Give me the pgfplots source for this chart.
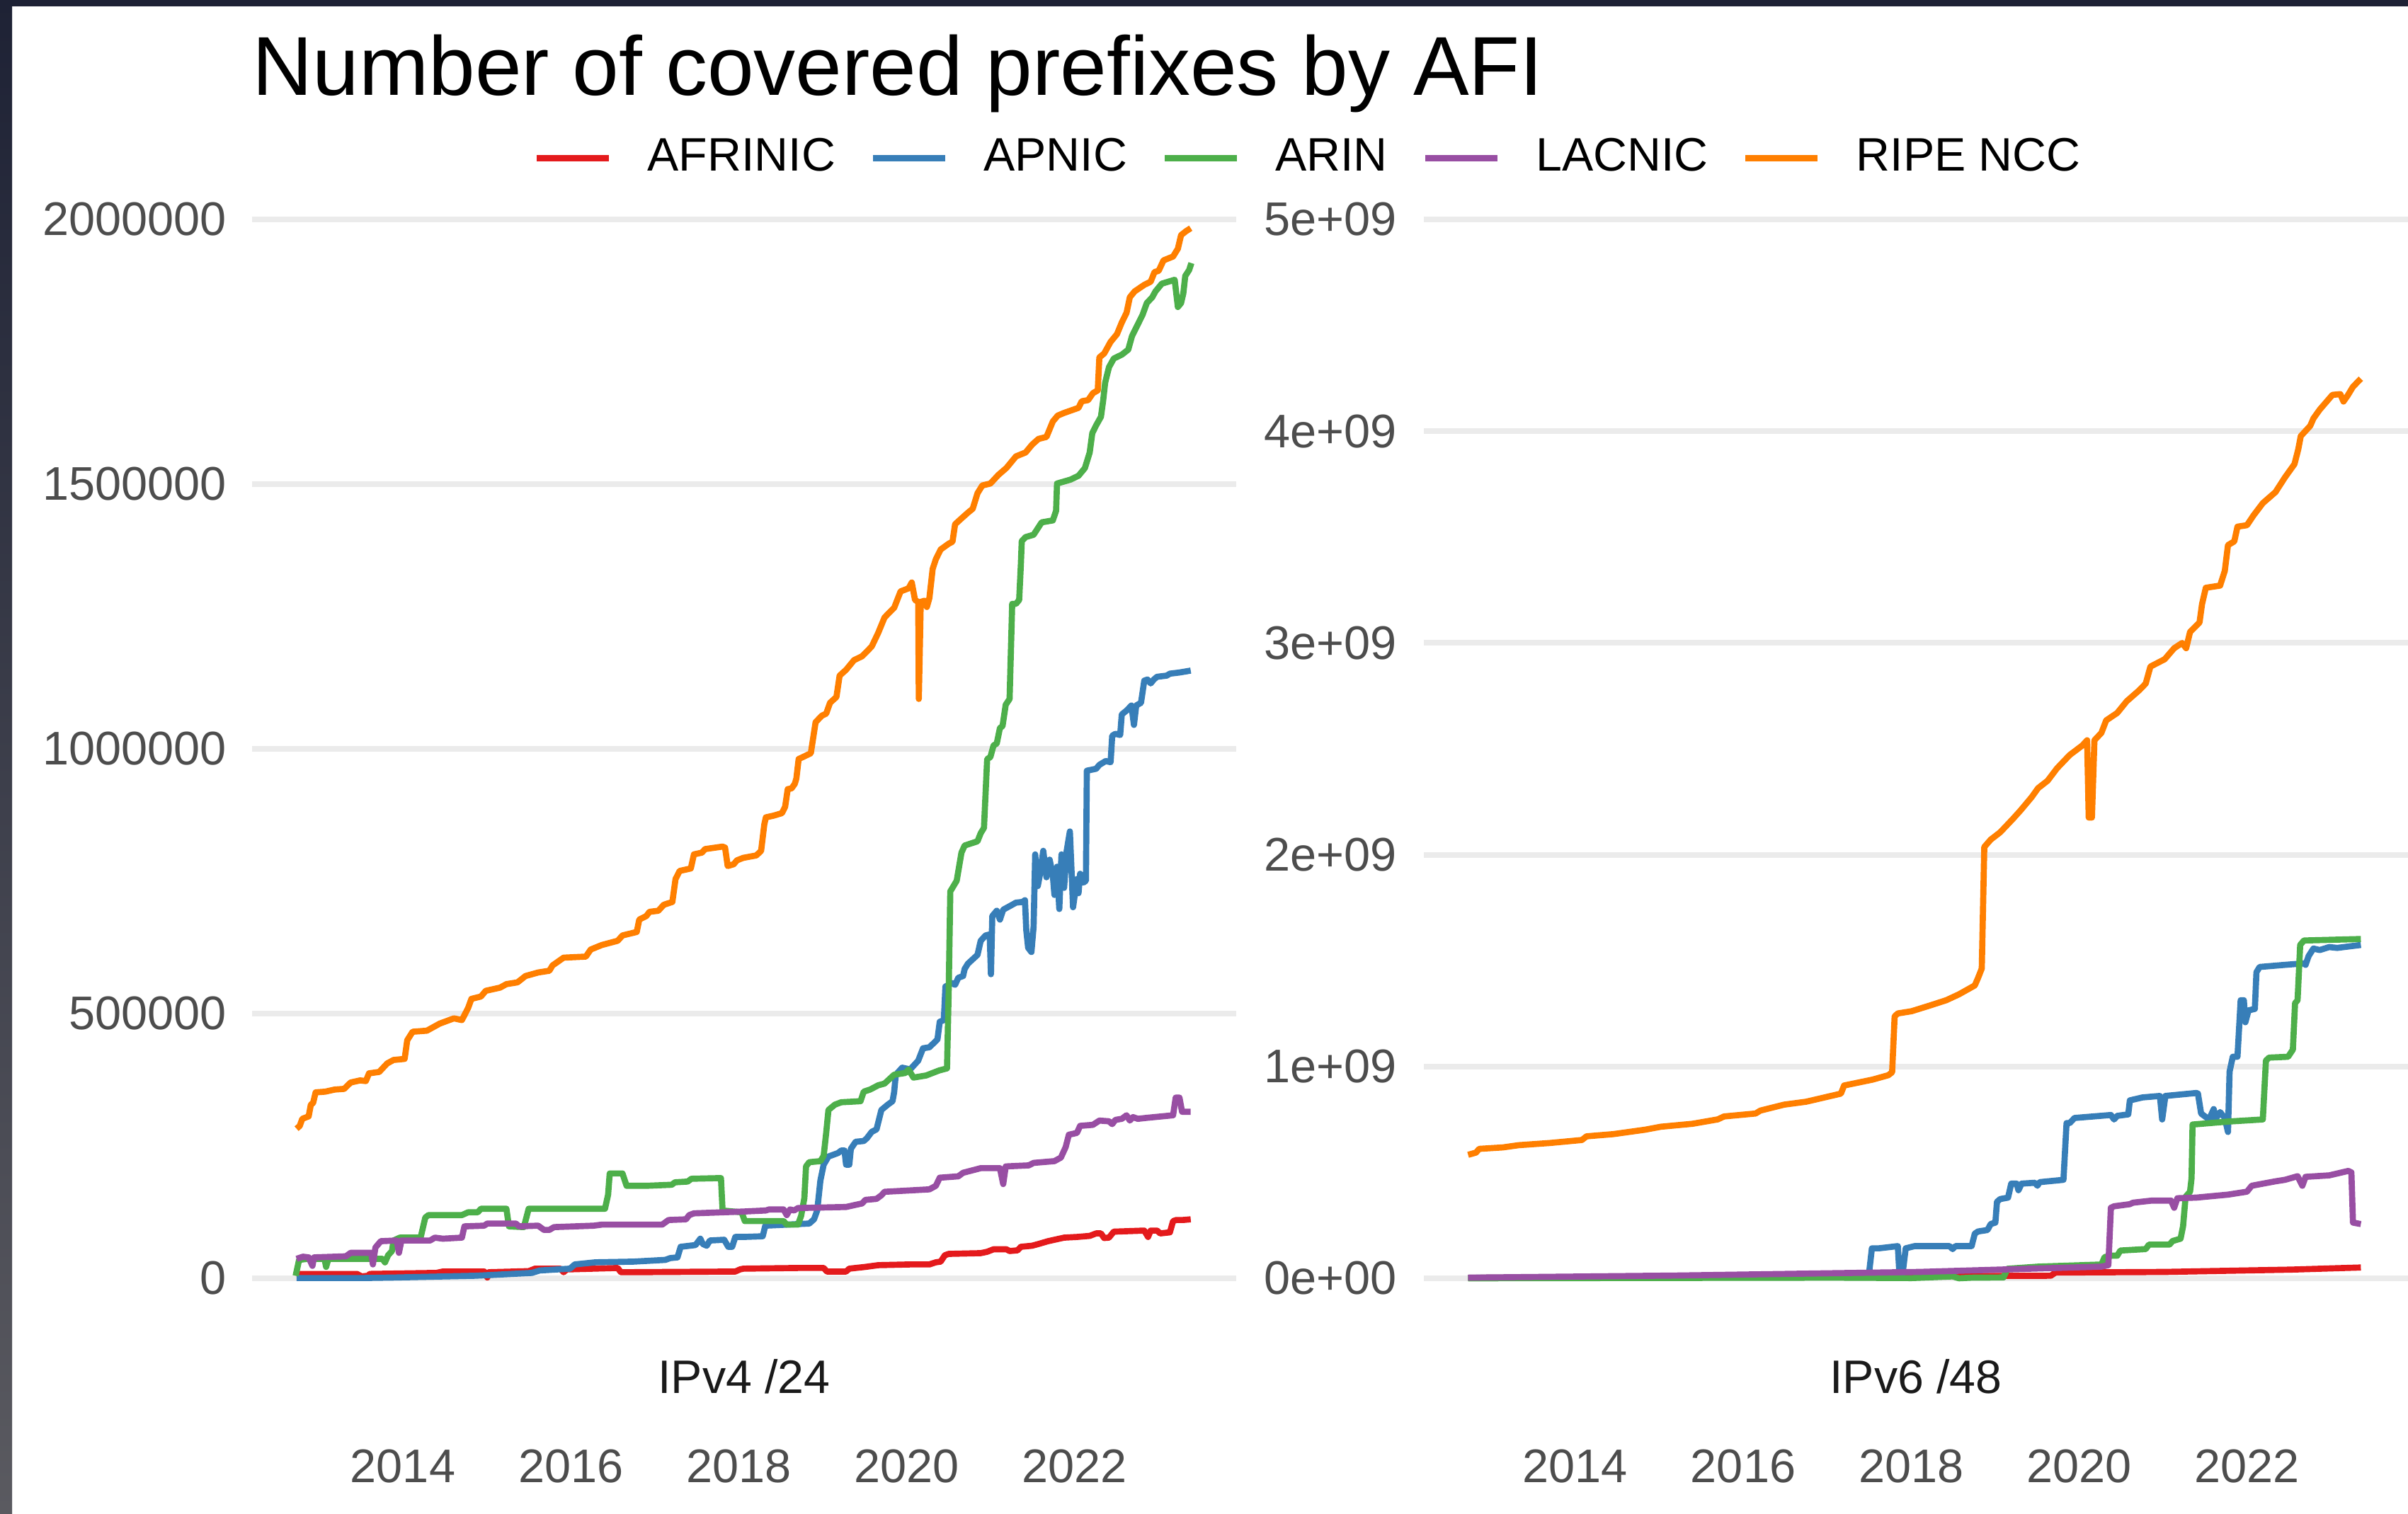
\documentclass[border=0pt]{standalone}
\usepackage{fontspec}
\setmainfont{Liberation Sans}
\usepackage{pgfplots}
\pgfplotsset{compat=1.18}
\definecolor{cAF}{HTML}{E41A1C}
\definecolor{cAP}{HTML}{377EB8}
\definecolor{cAR}{HTML}{4DAF4A}
\definecolor{cLA}{HTML}{984EA3}
\definecolor{cRI}{HTML}{FF7F00}
\definecolor{gridc}{HTML}{EBEBEB}
\definecolor{tickc}{HTML}{4D4D4D}
\definecolor{stripc}{HTML}{1A1A1A}
\definecolor{frametop}{HTML}{1E2235}
\definecolor{framebot}{HTML}{5A5A60}
\pgfplotsset{
  panel/.style={
    scale only axis, width=208.5pt, height=244.65pt, anchor=south west,
    axis line style={draw=none}, tick style={draw=none}, major tick length=0pt,
    ymajorgrids, xmajorgrids=false,
    major grid style={draw=gridc, line width=1.2pt},
    xtick={2014,2016,2018,2020,2022},
    xticklabels={2014,2016,2018,2020,2022},
    scaled y ticks=false, scaled x ticks=false,
    tick label style={font=\fontsize{10}{12}\selectfont, text=tickc, inner sep=0pt},
    xticklabel style={anchor=north, yshift=-24.9pt},
    every axis x label/.style={at={(axis description cs:0.5,0)}, anchor=base, yshift=-13.05pt, font=\fontsize{9.95}{12}\selectfont, text=stripc},
    every axis plot/.append style={line width=1.3pt, line join=round},
    clip=false,
  },
}
\begin{document}
\begin{tikzpicture}
\useasboundingbox (0pt,0pt) rectangle (510.15pt,320.7pt);
\fill[white] (0pt,0pt) rectangle (510.15pt,320.7pt);
\shade[top color=frametop, bottom color=framebot] (0pt,0pt) rectangle (2.55pt,320.7pt);
\fill[frametop] (0pt,319.35pt) rectangle (510.15pt,320.7pt);
\node[anchor=base west, inner sep=0pt, font=\fontsize{17.7}{21}\selectfont] at (53.3pt,300.45pt) {Number of covered prefixes by AFI};

% ---------------- IPv4 /24 ----------------
\begin{axis}[panel, at={(53.4pt,38.55pt)},
  xmin=2012.204, xmax=2023.924, ymin=-100270, ymax=2080200,
  ytick={0,500000,1000000,1500000,2000000},
  yticklabels={0,500000,1000000,1500000,2000000},
  yticklabel style={anchor=east, xshift=-5.25pt},
  xlabel={IPv4 /24},
  legend columns=5,
  legend style={at={(0.2863,1.0162)}, anchor=west, draw=none, fill=none, inner sep=0pt, outer sep=0pt,
    font=\fontsize{9.95}{12}\selectfont, nodes={inner sep=0pt, outer sep=0pt}, cells={anchor=west},
    /tikz/every odd column/.append style={column sep=7.5pt},
    /tikz/every even column/.append style={column sep=7.3pt}},
  legend image code/.code={\draw[#1, line width=1.3pt] (0pt,0pt) -- (15.3pt,0pt);},
]
\addplot[cAF] coordinates {(2012.734,8200) (2013.453,8200) (2013.510,3500) (2013.586,4800) (2013.605,8200) (2014.400,10200) (2014.476,12800) (2014.968,12800) (2015.006,1500) (2015.025,11500) (2015.498,13500) (2015.574,18200) (2015.876,18200) (2015.914,11500) (2015.952,16800) (2016.558,19500) (2016.596,11500) (2016.671,11500) (2017.959,12800) (2018.015,16800) (2018.056,18200) (2018.705,19500) (2019.011,19500) (2019.049,12800) (2019.278,12800) (2019.316,18200) (2019.507,21500) (2019.660,24800) (2020.041,26200) (2020.270,26200) (2020.347,30200) (2020.404,31500) (2020.454,43500) (2020.500,46100) (2020.881,47500) (2020.958,50100) (2021.034,54800) (2021.187,54800) (2021.225,51500) (2021.320,52800) (2021.359,59500) (2021.492,61500) (2021.569,64800) (2021.683,70100) (2021.874,76800) (2022.027,78100) (2022.179,80100) (2022.256,84800) (2022.313,84800) (2022.351,76100) (2022.408,76800) (2022.466,88100) (2022.829,90100) (2022.874,78100) (2022.905,90100) (2022.981,90100) (2023.019,84800) (2023.134,86800) (2023.172,108100) (2023.210,110100) (2023.287,110100) (2023.382,111400)};
\addplot[cAP] coordinates {(2012.734,500) (2013.529,500) (2013.908,1500) (2014.854,4800) (2015.044,6200) (2015.536,10200) (2015.630,14800) (2015.990,18200) (2016.047,26200) (2016.293,30200) (2016.747,31500) (2017.126,34800) (2017.183,38100) (2017.270,39500) (2017.308,59500) (2017.485,62800) (2017.542,74800) (2017.572,64800) (2017.618,61500) (2017.656,71400) (2017.826,72800) (2017.875,59500) (2017.921,59500) (2017.959,78100) (2018.056,78100) (2018.285,79400) (2018.316,99400) (2018.743,102700) (2018.839,103400) (2018.896,111400) (2018.934,128000) (2018.972,184700) (2019.011,214600) (2019.068,230000) (2019.182,236600) (2019.220,241300) (2019.259,241300) (2019.278,214600) (2019.316,214600) (2019.335,244600) (2019.392,257900) (2019.488,259300) (2019.526,264600) (2019.583,276600) (2019.640,281200) (2019.698,317900) (2019.774,327900) (2019.831,334500) (2019.850,351200) (2019.870,384500) (2019.946,397800) (2020.041,394500) (2020.137,411100) (2020.194,434400) (2020.270,436400) (2020.366,451100) (2020.393,484400) (2020.442,487700) (2020.461,551000) (2020.538,557600) (2020.576,554300) (2020.614,567600) (2020.671,570900) (2020.690,584300) (2020.729,594300) (2020.843,610900) (2020.881,637500) (2020.939,647500) (2020.988,649500) (2021.003,574300) (2021.019,684200) (2021.072,694200) (2021.110,677500) (2021.149,696200) (2021.225,702800) (2021.301,709500) (2021.378,710800) (2021.408,714100) (2021.424,657500) (2021.446,624200) (2021.485,616200) (2021.511,664200) (2021.530,800700) (2021.561,740800) (2021.588,764100) (2021.626,807400) (2021.664,757400) (2021.702,790700) (2021.740,760800) (2021.759,724100) (2021.790,777400) (2021.817,697500) (2021.843,800700) (2021.874,737400) (2021.905,807400) (2021.943,844000) (2021.981,700800) (2022.027,754100) (2022.046,727400) (2022.065,764100) (2022.103,747400) (2022.134,750800) (2022.145,958700) (2022.256,962400) (2022.294,969700) (2022.370,977000) (2022.428,974800) (2022.447,1024700) (2022.485,1028400) (2022.542,1026200) (2022.561,1065000) (2022.618,1072300) (2022.676,1081900) (2022.706,1045200) (2022.733,1081900) (2022.790,1087000) (2022.829,1128800) (2022.867,1131000) (2022.905,1123600) (2022.943,1131000) (2022.981,1136100) (2023.096,1138300) (2023.134,1142000) (2023.248,1144200) (2023.382,1147800)};
\addplot[cAR] coordinates {(2012.723,4800) (2012.764,34800) (2012.867,36800) (2013.067,36800) (2013.086,21500) (2013.113,36800) (2013.756,36800) (2013.787,30100) (2013.824,43500) (2013.870,51500) (2013.889,71400) (2013.964,76800) (2014.211,76800) (2014.267,114700) (2014.305,119400) (2014.703,119400) (2014.778,124700) (2014.892,124700) (2014.930,131400) (2015.233,131400) (2015.263,98100) (2015.441,96700) (2015.498,131400) (2016.407,131400) (2016.444,158000) (2016.463,198000) (2016.615,198000) (2016.664,174700) (2016.899,174700) (2017.202,176700) (2017.240,181300) (2017.391,182700) (2017.436,188000) (2017.788,189300) (2017.807,128000) (2018.034,124700) (2018.072,108100) (2018.533,108100) (2018.571,101400) (2018.705,101400) (2018.743,118100) (2018.781,151400) (2018.801,211300) (2018.839,219300) (2018.972,221300) (2019.011,231300) (2019.041,274600) (2019.068,317900) (2019.144,327900) (2019.220,332500) (2019.450,334500) (2019.488,352500) (2019.564,356500) (2019.660,364500) (2019.736,367800) (2019.850,384500) (2019.984,387800) (2020.022,394500) (2020.080,379100) (2020.232,383100) (2020.385,392500) (2020.480,396500) (2020.500,544300) (2020.519,730800) (2020.595,750800) (2020.652,804000) (2020.690,817400) (2020.843,825400) (2020.881,840700) (2020.920,850700) (2020.958,980700) (2020.996,984400) (2021.034,1006400) (2021.072,1010000) (2021.110,1039300) (2021.141,1043000) (2021.179,1083300) (2021.225,1094300) (2021.256,1273900) (2021.301,1273900) (2021.339,1281200) (2021.359,1347200) (2021.370,1392600) (2021.416,1400000) (2021.511,1404400) (2021.607,1427800) (2021.740,1431500) (2021.779,1449800) (2021.790,1501100) (2021.950,1508500) (2022.046,1515800) (2022.122,1530400) (2022.179,1559800) (2022.210,1596400) (2022.256,1611100) (2022.313,1627200) (2022.340,1658700) (2022.363,1691700) (2022.409,1721000) (2022.466,1737200) (2022.561,1744500) (2022.638,1754000) (2022.683,1779700) (2022.752,1801700) (2022.809,1820000) (2022.859,1842000) (2022.924,1853000) (2022.962,1864000) (2023.038,1878600) (2023.191,1886000) (2023.210,1860300) (2023.229,1834600) (2023.267,1842000) (2023.294,1860300) (2023.317,1893300) (2023.363,1904300) (2023.390,1917500)};
\addplot[cLA] coordinates {(2012.734,36800) (2012.810,40800) (2012.878,39500) (2012.923,23500) (2012.942,39500) (2013.321,41500) (2013.378,48100) (2013.624,48100) (2013.643,26200) (2013.673,58100) (2013.737,70100) (2013.927,71400) (2013.953,48100) (2013.983,71400) (2014.324,71400) (2014.381,76800) (2014.476,74800) (2014.703,76800) (2014.733,98100) (2014.968,99400) (2015.006,103400) (2015.346,103400) (2015.384,98100) (2015.611,99400) (2015.680,91400) (2015.744,91400) (2015.801,96700) (2016.274,99400) (2016.369,101400) (2017.088,101400) (2017.164,110100) (2017.372,111400) (2017.410,119400) (2017.466,122700) (2018.056,126100) (2018.323,128100) (2018.361,130100) (2018.533,130100) (2018.571,119400) (2018.610,130100) (2018.659,128100) (2018.705,132700) (2019.278,134700) (2019.373,138100) (2019.469,141400) (2019.507,148100) (2019.640,150000) (2019.698,156700) (2019.736,163400) (2020.041,166000) (2020.270,168000) (2020.347,174700) (2020.393,190000) (2020.614,192600) (2020.671,199300) (2020.881,208000) (2021.110,208000) (2021.149,178000) (2021.179,211300) (2021.454,213300) (2021.511,218000) (2021.759,221300) (2021.836,228000) (2021.893,247900) (2021.931,271200) (2022.027,274600) (2022.065,287900) (2022.218,289900) (2022.294,297900) (2022.408,296600) (2022.447,291200) (2022.485,299200) (2022.561,301200) (2022.618,307900) (2022.657,297900) (2022.695,304500) (2022.752,301200) (2022.867,303200) (2023.172,307900) (2023.203,341200) (2023.248,341200) (2023.279,314500) (2023.382,314500)};
\addplot[cRI] coordinates {(2012.734,282600) (2012.772,287900) (2012.802,301200) (2012.878,305900) (2012.904,327900) (2012.931,331200) (2012.961,351200) (2013.075,352500) (2013.188,356500) (2013.302,357800) (2013.378,369800) (2013.491,373800) (2013.559,372500) (2013.597,387100) (2013.718,389800) (2013.813,405800) (2013.889,412400) (2014.021,414400) (2014.052,449700) (2014.116,465700) (2014.286,467700) (2014.438,481000) (2014.608,491000) (2014.703,487700) (2014.778,511000) (2014.816,527700) (2014.930,532300) (2014.987,543000) (2015.157,549000) (2015.233,555600) (2015.365,559000) (2015.460,570900) (2015.611,577600) (2015.744,580900) (2015.782,590900) (2015.914,605600) (2016.179,607600) (2016.236,620900) (2016.369,629500) (2016.558,637500) (2016.615,647500) (2016.785,654200) (2016.815,677500) (2016.899,684200) (2016.937,692200) (2017.042,694200) (2017.107,705500) (2017.209,710800) (2017.247,754100) (2017.296,769400) (2017.429,774100) (2017.466,800700) (2017.561,804000) (2017.599,810700) (2017.807,815400) (2017.837,813400) (2017.868,778700) (2017.940,782100) (2017.978,789400) (2018.053,794100) (2018.209,798700) (2018.266,807400) (2018.304,857300) (2018.323,870600) (2018.419,874000) (2018.514,878600) (2018.552,890600) (2018.583,923900) (2018.629,925300) (2018.667,933900) (2018.686,944100) (2018.713,980700) (2018.858,991700) (2018.915,1050400) (2018.991,1062800) (2019.041,1066500) (2019.087,1087000) (2019.163,1098000) (2019.201,1138300) (2019.278,1149300) (2019.373,1167600) (2019.469,1174900) (2019.583,1193300) (2019.660,1218900) (2019.736,1248200) (2019.851,1266600) (2019.927,1297400) (2020.022,1303200) (2020.060,1314200) (2020.099,1281200) (2020.137,1277600) (2020.144,1094300) (2020.167,1277600) (2020.213,1279800) (2020.240,1268000) (2020.270,1284900) (2020.309,1339900) (2020.347,1358200) (2020.404,1376500) (2020.500,1387500) (2020.545,1391200) (2020.576,1424200) (2020.652,1435200) (2020.729,1446100) (2020.786,1453500) (2020.843,1482800) (2020.900,1497500) (2020.996,1501100) (2021.091,1517300) (2021.187,1530500) (2021.301,1552400) (2021.416,1559800) (2021.492,1574400) (2021.569,1585400) (2021.664,1589100) (2021.740,1618400) (2021.798,1629400) (2021.874,1634500) (2022.046,1644100) (2022.084,1656500) (2022.160,1658700) (2022.218,1671900) (2022.275,1677000) (2022.294,1739400) (2022.351,1746700) (2022.428,1768700) (2022.504,1783300) (2022.561,1805300) (2022.618,1823700) (2022.657,1853000) (2022.714,1864000) (2022.829,1876400) (2022.905,1882300) (2022.951,1900600) (2023.000,1902800) (2023.058,1922600) (2023.172,1929900) (2023.229,1944600) (2023.267,1970300) (2023.325,1977600) (2023.382,1983400)};
\legend{AFRINIC,APNIC,ARIN,LACNIC,RIPE NCC}
\end{axis}

% ---------------- IPv6 /48 ----------------
\begin{axis}[panel, at={(301.65pt,38.55pt)},
  xmin=2012.196, xmax=2023.92, ymin=-0.2507e9, ymax=5.2005e9,
  ytick={0,1e9,2e9,3e9,4e9,5e9},
  yticklabels={0e+00,1e+09,2e+09,3e+09,4e+09,5e+09},
  yticklabel style={anchor=east, xshift=-5.55pt},
  xlabel={IPv6 /48},
]
\addplot[cAF] coordinates {(2012.723,0.002e9) (2015.0,0.005e9) (2018.0,0.010e9) (2019.664,0.012e9) (2019.720,0.027e9) (2021.021,0.030e9) (2022.529,0.041e9) (2023.358,0.051e9)};
\addplot[cAP] coordinates {(2012.723,0.002e9) (2017.466,0.012e9) (2017.503,0.037e9) (2017.533,0.1415e9) (2017.616,0.1415e9) (2017.842,0.152e9) (2017.861,0.020e9) (2017.898,0.020e9) (2017.936,0.1415e9) (2018.043,0.152e9) (2018.457,0.152e9) (2018.495,0.138e9) (2018.530,0.152e9) (2018.721,0.152e9) (2018.759,0.211e9) (2018.797,0.221e9) (2018.910,0.228e9) (2018.948,0.256e9) (2019.004,0.263e9) (2019.023,0.361e9) (2019.061,0.374e9) (2019.155,0.381e9) (2019.193,0.447e9) (2019.257,0.447e9) (2019.279,0.416e9) (2019.317,0.447e9) (2019.475,0.451e9) (2019.505,0.437e9) (2019.532,0.454e9) (2019.815,0.465e9) (2019.852,0.733e9) (2019.890,0.733e9) (2019.947,0.757e9) (2020.380,0.771e9) (2020.418,0.750e9) (2020.456,0.767e9) (2020.587,0.774e9) (2020.606,0.840e9) (2020.757,0.854e9) (2020.964,0.861e9) (2020.991,0.750e9) (2021.029,0.861e9) (2021.398,0.875e9) (2021.417,0.872e9) (2021.455,0.778e9) (2021.549,0.750e9) (2021.605,0.799e9) (2021.624,0.750e9) (2021.681,0.785e9) (2021.737,0.757e9) (2021.775,0.691e9) (2021.794,0.976e9) (2021.832,1.046e9) (2021.888,1.046e9) (2021.926,1.313e9) (2021.964,1.313e9) (2021.982,1.209e9) (2022.020,1.265e9) (2022.095,1.272e9) (2022.114,1.445e9) (2022.152,1.470e9) (2022.454,1.480e9) (2022.680,1.487e9) (2022.699,1.480e9) (2022.736,1.522e9) (2022.793,1.557e9) (2022.868,1.550e9) (2022.981,1.564e9) (2023.076,1.560e9) (2023.358,1.574e9)};
\addplot[cAR] coordinates {(2012.723,0.000e9) (2017.089,0.003e9) (2018.005,0.001e9) (2018.495,0.009e9) (2018.571,0.000e9) (2018.721,0.003e9) (2019.10,0.004e9) (2019.15,0.045e9) (2019.513,0.055e9) (2020.267,0.065e9) (2020.305,0.100e9) (2020.380,0.107e9) (2020.456,0.107e9) (2020.493,0.131e9) (2020.795,0.138e9) (2020.833,0.159e9) (2021.078,0.159e9) (2021.115,0.176e9) (2021.210,0.187e9) (2021.240,0.246e9) (2021.270,0.385e9) (2021.323,0.409e9) (2021.341,0.472e9) (2021.353,0.726e9) (2021.775,0.740e9) (2022.190,0.750e9) (2022.227,1.028e9) (2022.265,1.042e9) (2022.491,1.046e9) (2022.548,1.080e9) (2022.574,1.299e9) (2022.604,1.313e9) (2022.635,1.574e9) (2022.680,1.595e9) (2023.358,1.602e9)};
\addplot[cLA] coordinates {(2012.723,0.003e9) (2015.207,0.013e9) (2018.098,0.030e9) (2020.267,0.055e9) (2020.350,0.062e9) (2020.380,0.333e9) (2020.418,0.340e9) (2020.606,0.350e9) (2020.644,0.357e9) (2020.870,0.367e9) (2021.096,0.367e9) (2021.134,0.333e9) (2021.172,0.378e9) (2021.398,0.381e9) (2021.775,0.395e9) (2022.001,0.409e9) (2022.058,0.437e9) (2022.341,0.458e9) (2022.454,0.465e9) (2022.604,0.482e9) (2022.661,0.437e9) (2022.699,0.479e9) (2022.981,0.486e9) (2023.208,0.507e9) (2023.245,0.500e9) (2023.264,0.263e9) (2023.358,0.256e9)};
\addplot[cRI] coordinates {(2012.723,0.5830e9) (2012.817,0.5935e9) (2012.855,0.6111e9) (2013.137,0.6180e9) (2013.325,0.6285e9) (2013.702,0.6390e9) (2013.890,0.6460e9) (2014.078,0.6530e9) (2014.134,0.6703e9) (2014.454,0.6808e9) (2014.831,0.7016e9) (2015.019,0.7156e9) (2015.395,0.7295e9) (2015.697,0.7503e9) (2015.772,0.7642e9) (2016.148,0.7781e9) (2016.205,0.7920e9) (2016.487,0.8199e9) (2016.750,0.8338e9) (2016.901,0.8477e9) (2017.164,0.8720e9) (2017.202,0.9103e9) (2017.541,0.9381e9) (2017.729,0.9590e9) (2017.774,0.9729e9) (2017.804,1.2367e9) (2017.842,1.2506e9) (2018.005,1.2610e9) (2018.231,1.2889e9) (2018.420,1.3132e9) (2018.571,1.3410e9) (2018.759,1.3828e9) (2018.797,1.4175e9) (2018.842,1.4627e9) (2018.872,2.0364e9) (2018.948,2.0712e9) (2019.061,2.1058e9) (2019.211,2.1684e9) (2019.306,2.2102e9) (2019.438,2.2728e9) (2019.513,2.3144e9) (2019.626,2.3493e9) (2019.739,2.4084e9) (2019.890,2.4710e9) (2020.041,2.5162e9) (2020.097,2.5405e9) (2020.116,2.1755e9) (2020.154,2.1755e9) (2020.184,2.5405e9) (2020.267,2.5753e9) (2020.324,2.6344e9) (2020.455,2.6692e9) (2020.569,2.7249e9) (2020.719,2.7770e9) (2020.795,2.8083e9) (2020.851,2.8883e9) (2021.021,2.9231e9) (2021.134,2.9752e9) (2021.228,2.9996e9) (2021.277,2.9752e9) (2021.323,3.0517e9) (2021.436,3.0969e9) (2021.466,3.1836e9) (2021.511,3.2604e9) (2021.681,3.2708e9) (2021.737,3.3403e9) (2021.775,3.4620e9) (2021.850,3.4794e9) (2021.888,3.5490e9) (2022.001,3.5559e9) (2022.077,3.6011e9) (2022.190,3.6602e9) (2022.341,3.7124e9) (2022.454,3.7819e9) (2022.567,3.8445e9) (2022.612,3.9140e9) (2022.642,3.9766e9) (2022.755,4.0253e9) (2022.793,4.0601e9) (2022.868,4.1018e9) (2023.019,4.1713e9) (2023.113,4.1748e9) (2023.151,4.1400e9) (2023.200,4.1678e9) (2023.264,4.2096e9) (2023.358,4.2478e9)};
\end{axis}
\end{tikzpicture}
\end{document}
